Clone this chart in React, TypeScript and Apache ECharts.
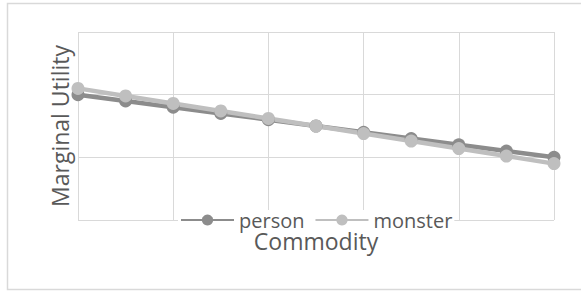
import React, { useEffect, useRef } from "react";
import * as echarts from "echarts";

const categories = ["1", "2", "3", "4", "5", "6", "7", "8", "9", "10", "11"];
const personValues = [2.0, 1.9, 1.8, 1.7, 1.6, 1.5, 1.4, 1.3, 1.2, 1.1, 1.0];
const monsterValues = [2.1, 1.98, 1.86, 1.74, 1.62, 1.5, 1.38, 1.26, 1.14, 1.02, 0.9];
const seriesNames = ["person", "monster"];
const xTitle = "Commodity";
const yTitle = "Marginal Utility";

const FONT = "'Open Sans', sans-serif";
const TEXT = "#595959";
const GRID = "#d9d9d9";

export default function App() {
  const ref = useRef<HTMLDivElement>(null);
  useEffect(() => {
    if (!ref.current) return;
    const chart = echarts.init(ref.current, undefined, { renderer: "svg" });
    chart.setOption({
      animation: false,
      backgroundColor: "#ffffff",
      textStyle: { fontFamily: FONT },
      graphic: [
        {
          type: "rect",
          shape: { x: 7.5, y: 3.5, width: 600, height: 286 },
          style: { fill: "none", stroke: GRID, lineWidth: 1.5 },
          silent: true,
          z: -10,
        },
      ],
      grid: { left: 78, top: 32, right: 27, bottom: 77, containLabel: false },
      legend: {
        left: 178,
        top: 210,
        padding: [0, 2],
        backgroundColor: "#ffffff",
        itemWidth: 53,
        itemHeight: 14,
        itemGap: 10,
        data: seriesNames,
        textStyle: { fontFamily: FONT, fontSize: 20, color: TEXT, lineHeight: 20, padding: [0, 0, 0, 0] },
      },
      xAxis: {
        type: "category",
        data: categories,
        boundaryGap: false,
        name: xTitle,
        nameLocation: "middle",
        nameGap: 9,
        nameTextStyle: { fontFamily: FONT, fontSize: 23, color: TEXT, lineHeight: 23 },
        axisLine: { show: false },
        axisTick: { show: false },
        axisLabel: { show: false },
        splitLine: { show: true, interval: 1, lineStyle: { color: GRID, width: 1 } },
      },
      yAxis: {
        type: "value",
        min: 0,
        max: 3,
        interval: 1,
        name: yTitle,
        nameLocation: "middle",
        nameGap: 7,
        nameTextStyle: { fontFamily: FONT, fontSize: 23, color: TEXT },
        axisLine: { show: false },
        axisTick: { show: false },
        axisLabel: { show: false },
        splitLine: { show: true, lineStyle: { color: GRID, width: 1 } },
      },
      series: [
        {
          name: seriesNames[0],
          type: "line",
          data: personValues,
          symbol: "circle",
          symbolSize: 13,
          color: "#8c8c8c",
          lineStyle: { width: 4.5, color: "#8c8c8c" },
          itemStyle: { color: "#8c8c8c" },
        },
        {
          name: seriesNames[1],
          type: "line",
          data: monsterValues,
          symbol: "circle",
          symbolSize: 13,
          color: "#bfbfbf",
          lineStyle: { width: 4.5, color: "#bfbfbf" },
          itemStyle: { color: "#bfbfbf" },
        },
      ],
    });
    return () => chart.dispose();
  }, []);
  return (
    <div
      ref={ref}
      style={{ position: "absolute", left: 0, top: 0, width: 581, height: 297 }}
    />
  );
}
